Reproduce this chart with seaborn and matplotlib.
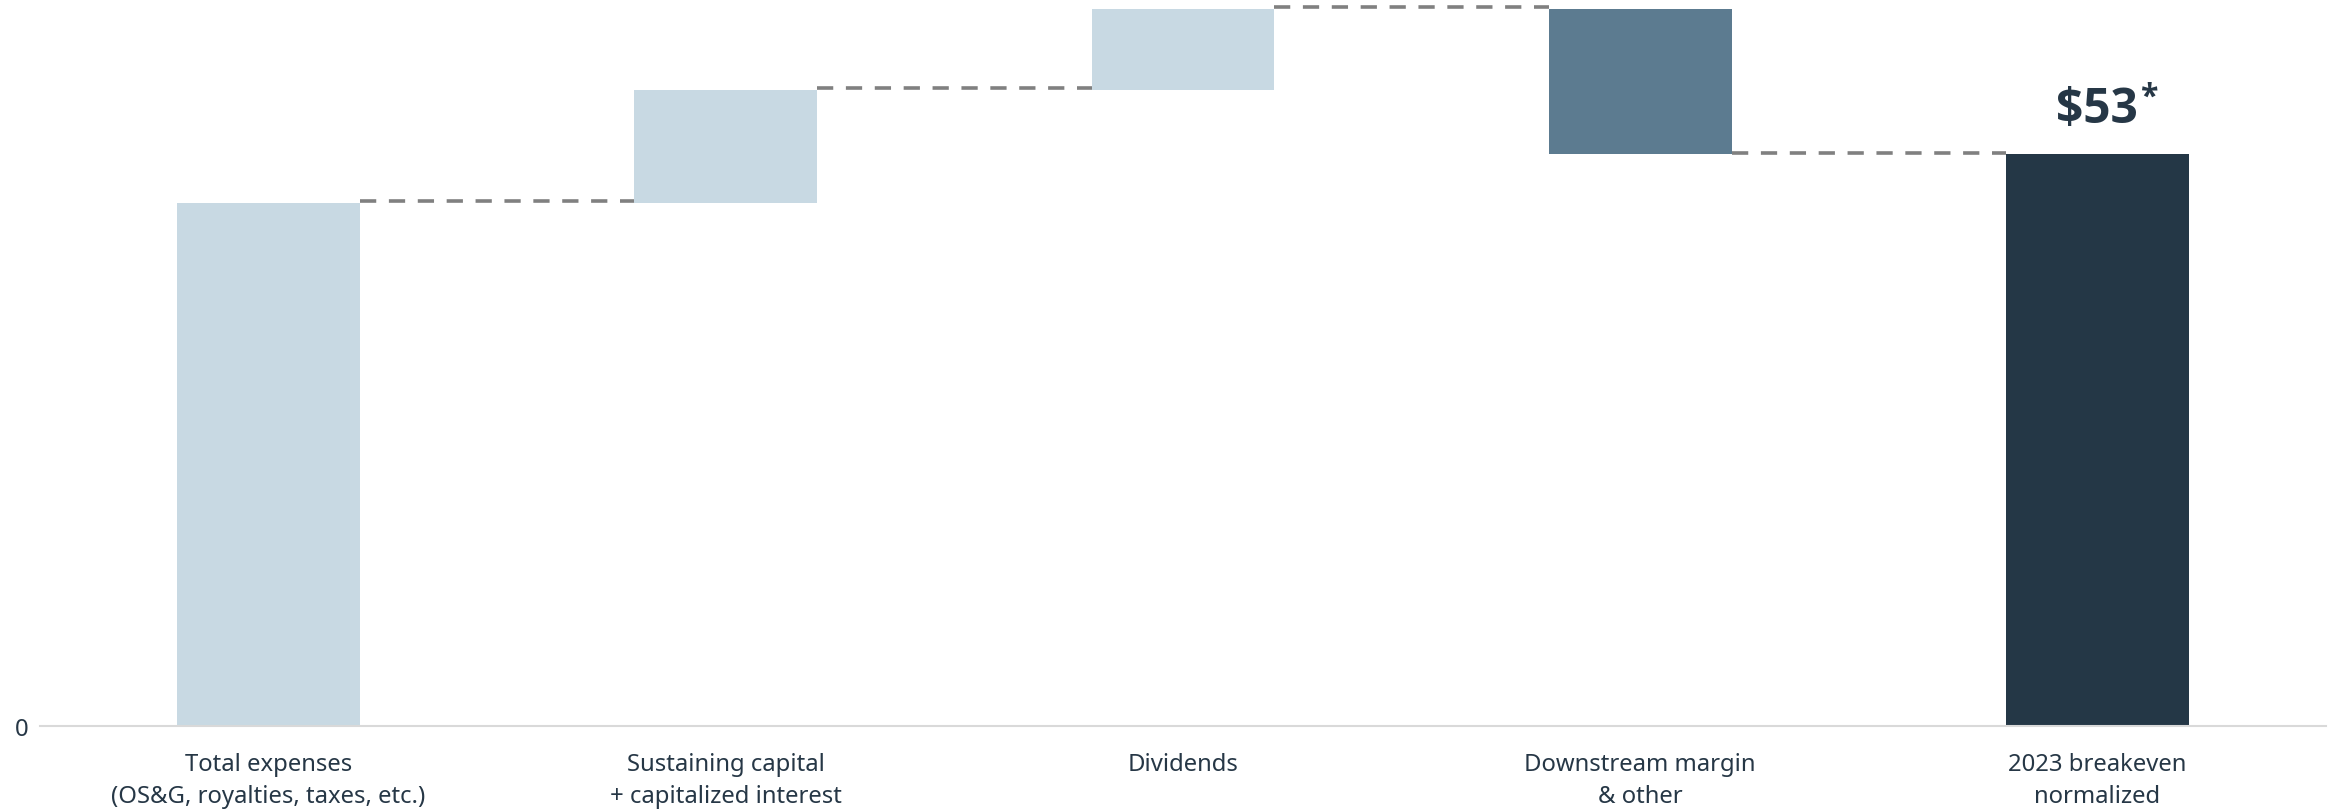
import matplotlib
matplotlib.use("Agg")
import matplotlib.pyplot as plt
import seaborn as sns
import pandas as pd

categories = ["Total expenses\n(OS&G, royalties, taxes, etc.)",
              "Sustaining capital\n+ capitalized interest",
              "Dividends",
              "Downstream margin\n& other",
              "2023 breakeven\nnormalized"]
changes = [48.5, 10.5, 7.5, -13.5, 53.0]
is_total = [True, False, False, False, True]
colors = ["#c8d9e3", "#c8d9e3", "#c8d9e3", "#5c7b90", "#243746"]
final_label = "$53"

# waterfall geometry from data
bottoms, heights, levels = [], [], []
running = 0.0
for v, tot in zip(changes, is_total):
    if tot:
        bottoms.append(0.0)
        heights.append(v)
        running = v
    else:
        new = running + v
        bottoms.append(min(running, new))
        heights.append(abs(v))
        running = new
    levels.append(running)

df = pd.DataFrame({"cat": categories, "h": heights})

sns.set_theme(style="white")
plt.rcParams["font.family"] = ["Noto Sans", "DejaVu Sans"]
text_color = "#263746"

fig = plt.figure(figsize=(23.36, 8.12), dpi=100)
ax = fig.add_axes([40 / 2336, 85 / 812, (2326 - 40) / 2336, 727 / 812])

sns.barplot(data=df, x="cat", y="h", hue="cat", palette=colors, legend=False,
            width=0.4, saturation=1, ax=ax, linewidth=0)

patches = sorted(ax.patches, key=lambda p: p.get_x())
for p, b, h in zip(patches, bottoms, heights):
    p.set_y(b)
    p.set_height(h)

# connectors
for i in range(len(categories) - 1):
    ax.plot([i + 0.2, i + 1 - 0.2], [levels[i] + 0.15, levels[i] + 0.15],
            color="#808080", lw=2.6, dashes=(4.5, 3.5), solid_capstyle="butt",
            dash_capstyle="butt", zorder=3)

ax.set_xlim(-0.5, len(categories) - 0.5)
ax.set_ylim(0, 67.4)
ax.set_yticks([0])
ax.set_yticklabels(["0"])
ax.set_xlabel("")
ax.set_ylabel("")
ax.tick_params(axis="both", length=0, labelsize=17.2, labelcolor=text_color)
ax.tick_params(axis="x", pad=19)
ax.tick_params(axis="y", pad=8)
for lab in ax.get_xticklabels():
    lab.set_linespacing(1.45)

for s in ["top", "right", "left"]:
    ax.spines[s].set_visible(False)
ax.spines["bottom"].set_color("#d9d9d9")
ax.spines["bottom"].set_linewidth(1.5)

n = len(categories) - 1
bold_family = ["Open Sans", "Noto Sans", "DejaVu Sans"]
t = ax.annotate(final_label.replace("$", r"\$"), xy=(n, levels[-1]), xytext=(0, 23),
                textcoords="offset points", ha="center", va="baseline",
                fontsize=34.5, fontweight="bold", color=text_color, family=bold_family)
ax.annotate("*", xy=(1, 0.42), xycoords=t, xytext=(1, 0), textcoords="offset points",
            ha="left", va="bottom", fontsize=23, fontweight="bold", color=text_color,
            family=bold_family)

fig.savefig("out.png", dpi=100)
